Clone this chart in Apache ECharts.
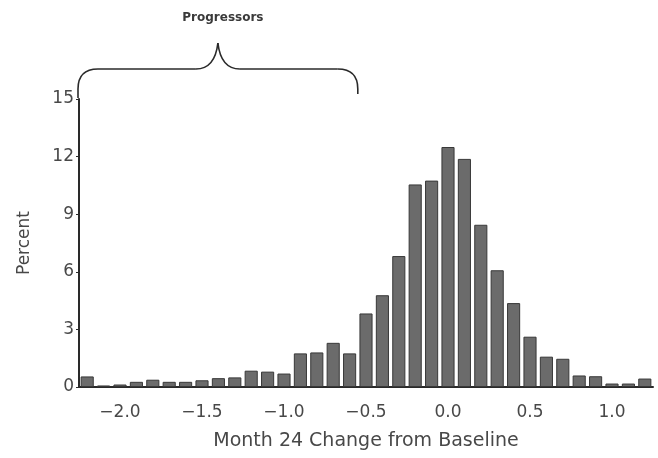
<!DOCTYPE html>
<html>
<head>
<meta charset="utf-8">
<script src="https://cdn.jsdelivr.net/npm/echarts@6/dist/echarts.min.js"></script>
<style>
html,body{margin:0;padding:0;background:#fff;}
#chart{width:658px;height:458px;}
</style>
</head>
<body>
<div id="chart"></div>
<script>
// Bin centers (Month 24 change from baseline)
var categories = ["-2.2","-2.1","-2.0","-1.9","-1.8","-1.7","-1.6","-1.5","-1.4","-1.3",
                  "-1.2","-1.1","-1.0","-0.9","-0.8","-0.7","-0.6","-0.5","-0.4","-0.3",
                  "-0.2","-0.1","0.0","0.1","0.2","0.3","0.4","0.5","0.6","0.7",
                  "0.8","0.9","1.0","1.1","1.2"];
// Percent of patients in each bin
var percentValues = [0.55, 0.08, 0.13, 0.27, 0.38, 0.27, 0.27, 0.35, 0.46, 0.5,
                     0.85, 0.8, 0.7, 1.75, 1.8, 2.3, 1.75, 3.83, 4.78, 6.82,
                     10.55, 10.75, 12.5, 11.88, 8.45, 6.08, 4.37, 2.62, 1.58, 1.47,
                     0.6, 0.56, 0.18, 0.18, 0.44];
// Labelled x ticks
var xTickLabels = ["-2.0","-1.5","-1.0","-0.5","0.0","0.5","1.0"];
var yTicks = [0, 3, 6, 9, 12, 15];
// Bracket annotation: spans from first bin to this bin (inclusive)
var bracketFrom = "-2.2";
var bracketTo = "-0.6";
var bracketLabel = "Progressors";

var FONT = "'DejaVu Sans', Verdana, sans-serif";
var TXT = '#484848';
var chart = echarts.init(document.getElementById('chart'), null, {renderer: 'canvas'});

var option = {
  backgroundColor: '#ffffff',
  animation: false,
  grid: {left: 79, right: 5, top: 99, bottom: 71, containLabel: false},
  xAxis: {
    type: 'category',
    data: categories,
    boundaryGap: true,
    axisLine: {show: true, lineStyle: {color: '#2a2a2a', width: 2}},
    axisTick: {show: false},
    axisLabel: {
      interval: 0,
      color: TXT,
      fontFamily: FONT,
      fontSize: 17,
      margin: 17,
      formatter: function (v) {
        return xTickLabels.indexOf(v) >= 0 ? v.replace('-', '\u2212') : '';
      }
    },
    name: 'Month 24 Change from Baseline',
    nameLocation: 'middle',
    nameGap: 45,
    nameTextStyle: {color: TXT, fontFamily: FONT, fontSize: 19}
  },
  yAxis: {
    type: 'value',
    min: yTicks[0],
    max: yTicks[yTicks.length - 1],
    interval: yTicks[1] - yTicks[0],
    axisLine: {show: true, lineStyle: {color: '#2a2a2a', width: 2}},
    axisTick: {show: true, length: 3, lineStyle: {color: '#2a2a2a', width: 1}},
    splitLine: {show: false},
    axisLabel: {color: TXT, fontFamily: FONT, fontSize: 17, margin: 5},
    name: 'Percent',
    nameLocation: 'middle',
    nameGap: 46,
    nameRotate: 90,
    nameTextStyle: {color: TXT, fontFamily: FONT, fontSize: 17}
  },
  series: [{
    type: 'bar',
    data: percentValues,
    barCategoryGap: '20%',
    itemStyle: {color: '#6b6b6b', borderColor: '#383838', borderWidth: 1}
  }]
};
chart.setOption(option);

// Bracket drawn relative to axis positions
var i0 = categories.indexOf(bracketFrom);
var i1 = categories.indexOf(bracketTo);
var pA = chart.convertToPixel({gridIndex: 0}, [i0, yTicks[yTicks.length - 1]]);
var pB = chart.convertToPixel({gridIndex: 0}, [i1, yTicks[yTicks.length - 1]]);
var band = chart.convertToPixel({xAxisIndex: 0}, i0 + 1) - chart.convertToPixel({xAxisIndex: 0}, i0);
var xL = pA[0] - band / 2 - 1;
var xR = pB[0] + band / 2;
var yTop = pA[1];
var xM = (xL + xR) / 2;
var yH = yTop - 30;   // horizontal line of bracket
var yC = yTop - 56;   // cusp
var r = 20;
var st = {stroke: '#2a2a2a', lineWidth: 1.6, fill: null};
var braceParts = [
  {type: 'line', shape: {x1: xL, y1: yTop - 1, x2: xL, y2: yH + r}, style: st},
  {type: 'bezierCurve', shape: {x1: xL, y1: yH + r, x2: xL + r, y2: yH, cpx1: xL, cpy1: yH}, style: st},
  {type: 'line', shape: {x1: xL + r, y1: yH, x2: xM - 22, y2: yH}, style: st},
  {type: 'bezierCurve', shape: {x1: xM - 22, y1: yH, x2: xM, y2: yC, cpx1: xM - 3, cpy1: yH}, style: st},
  {type: 'bezierCurve', shape: {x1: xM, y1: yC, x2: xM + 22, y2: yH, cpx1: xM + 3, cpy1: yH}, style: st},
  {type: 'line', shape: {x1: xM + 22, y1: yH, x2: xR - r, y2: yH}, style: st},
  {type: 'bezierCurve', shape: {x1: xR - r, y1: yH, x2: xR, y2: yH + r, cpx1: xR, cpy1: yH}, style: st},
  {type: 'line', shape: {x1: xR, y1: yH + r, x2: xR, y2: yTop - 5}, style: st},
  {type: 'text', x: xM + 5, y: 18,
   style: {text: bracketLabel, fill: '#3a3a3a', font: 'bold 12px ' + FONT, align: 'center', verticalAlign: 'middle'}}
];

chart.setOption({graphic: braceParts});
</script>
</body>
</html>
